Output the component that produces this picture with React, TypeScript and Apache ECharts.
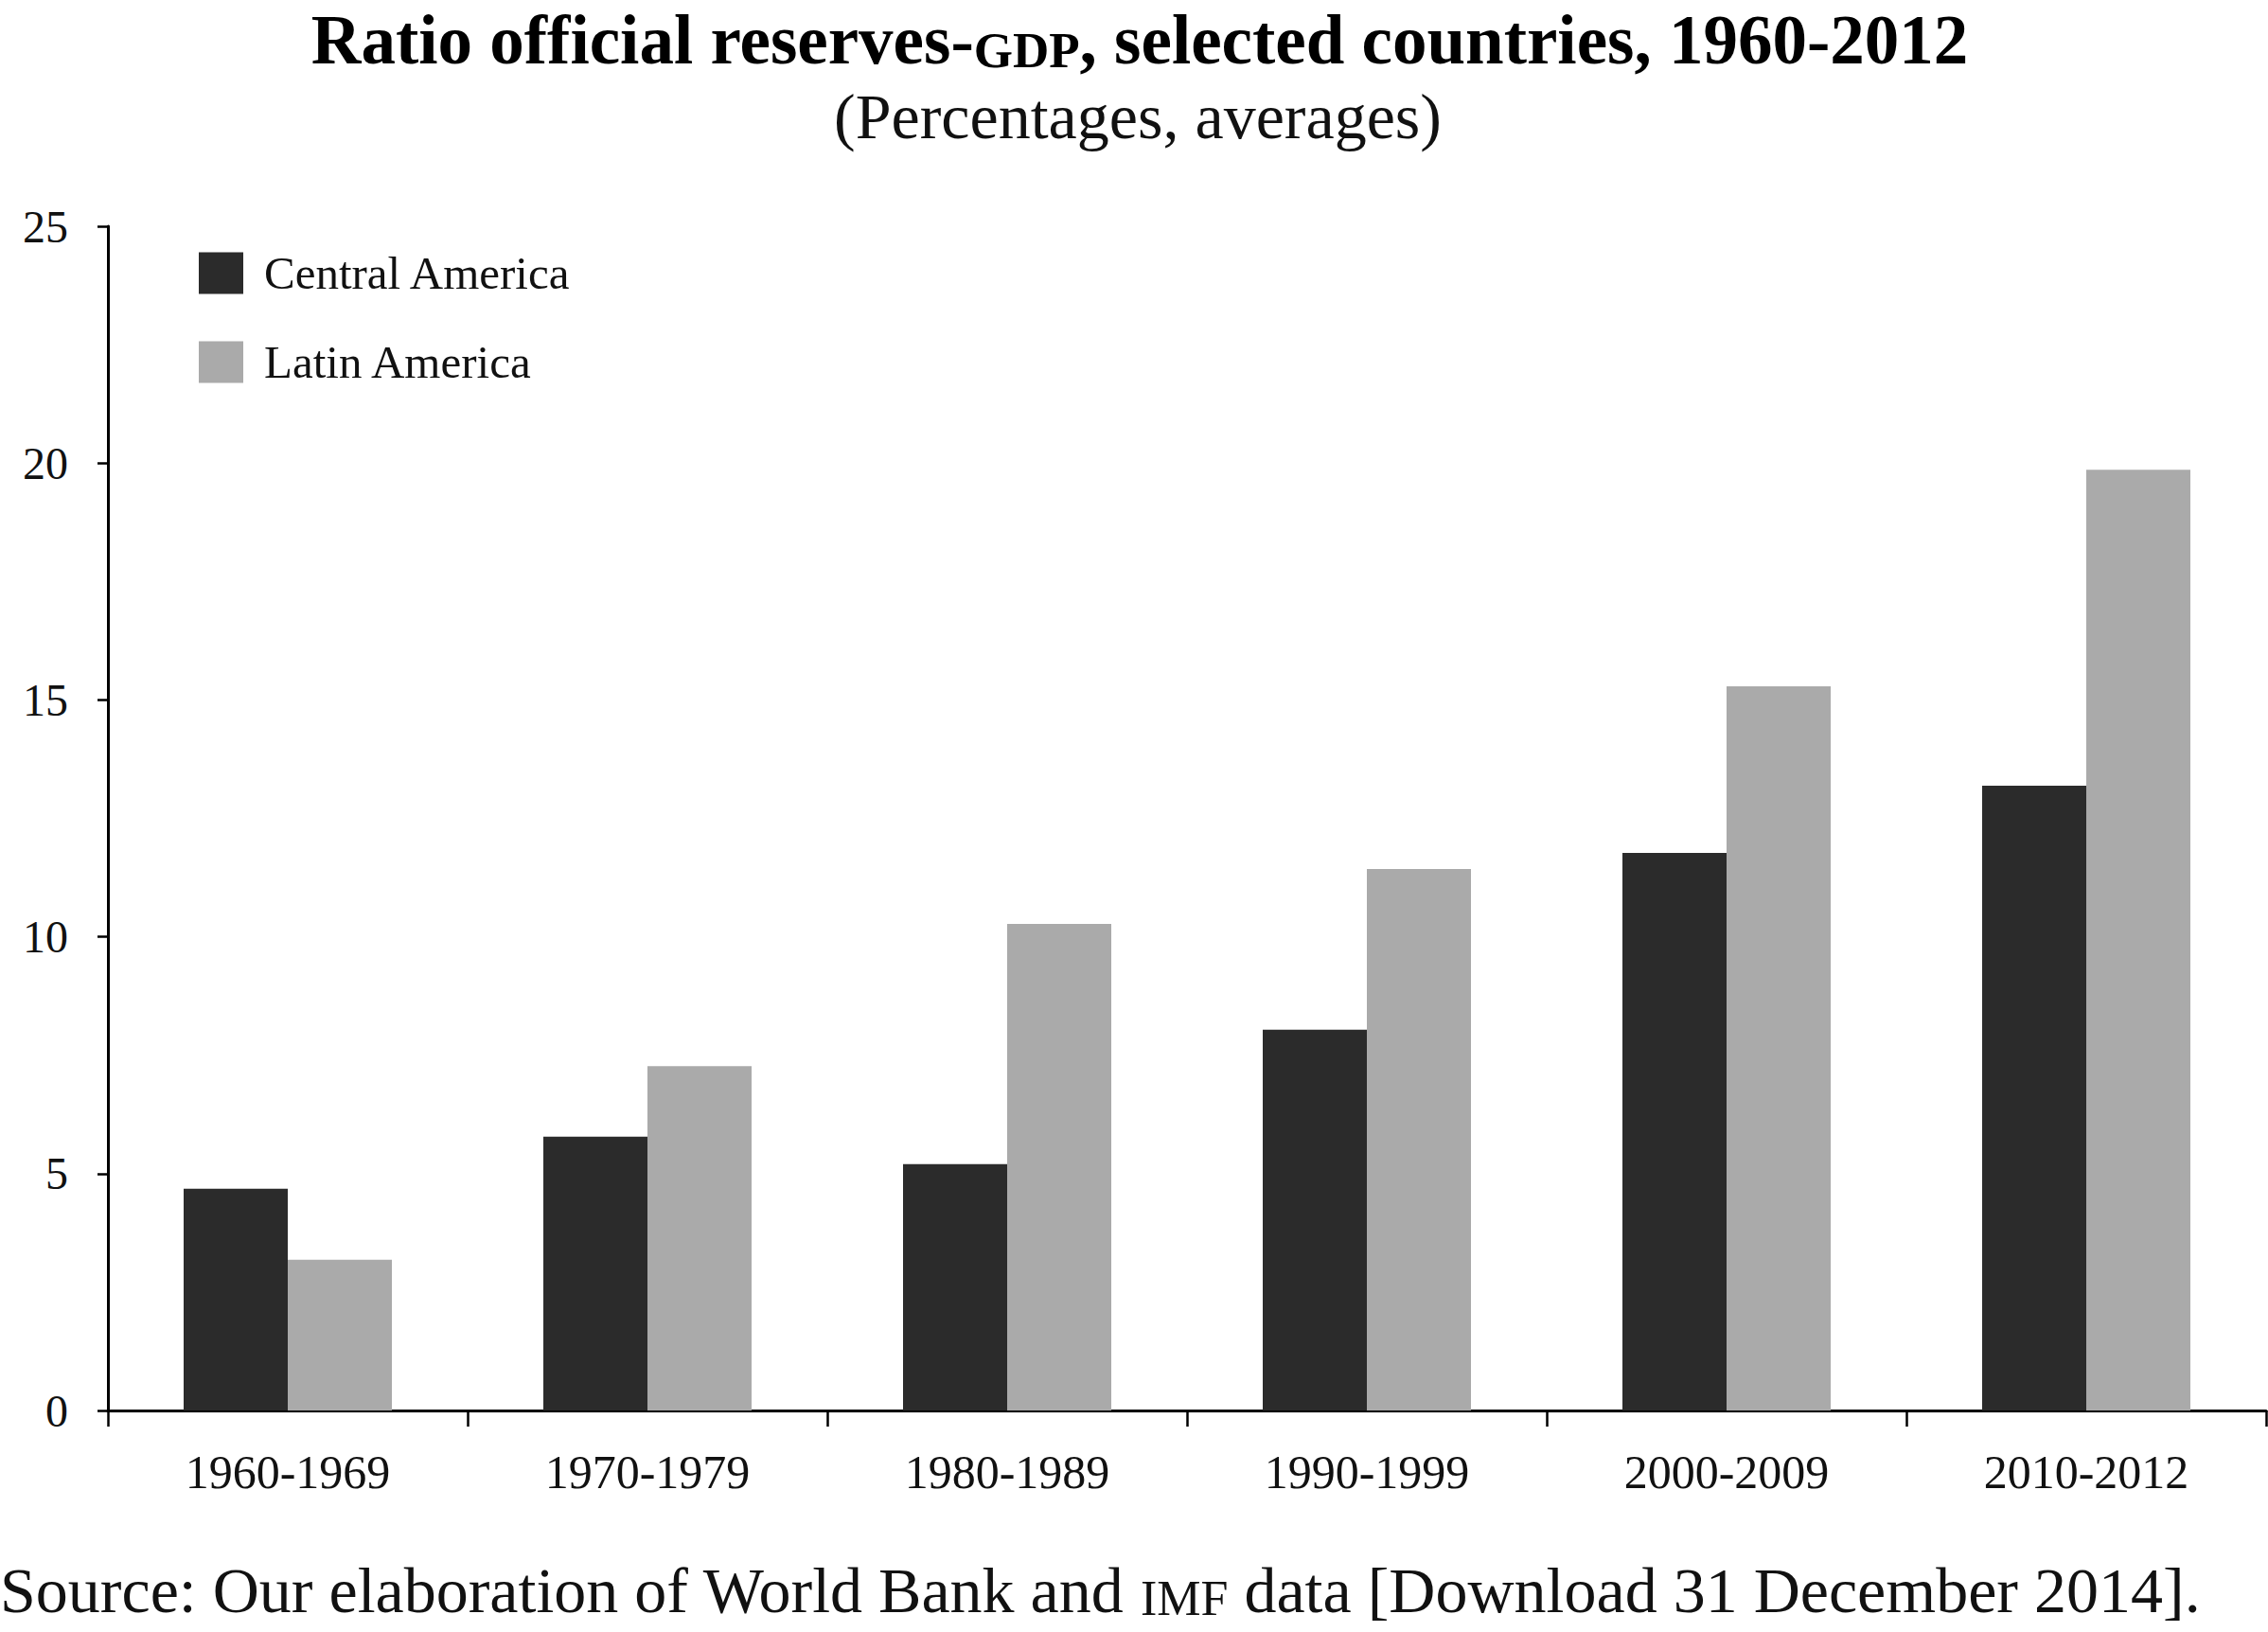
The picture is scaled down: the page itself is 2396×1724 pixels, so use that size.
import React, { useEffect, useRef } from "react";
import * as echarts from "echarts";

const categories = ["1960-1969", "1970-1979", "1980-1989", "1990-1999", "2000-2009", "2010-2012"];
const centralAmerica = [4.68, 5.78, 5.2, 8.04, 11.77, 13.19];
const latinAmerica = [3.18, 7.27, 10.27, 11.43, 15.29, 19.86];
const seriesNames = ["Central America", "Latin America"];
const yTicks = { min: 0, max: 25, interval: 5 };

const FONT = "'Liberation Serif', 'Times New Roman', serif";

export default function App() {
  const ref = useRef<HTMLDivElement>(null);
  useEffect(() => {
    document.body.style.margin = "0";
    document.body.style.overflow = "hidden";
    const chart = echarts.init(ref.current!, undefined, { renderer: "svg" });
    chart.setOption({
      animation: false,
      backgroundColor: "#ffffff",
      grid: { left: 114, right: 2, top: 239, bottom: 234, containLabel: false },
      legend: {
        orient: "vertical",
        left: 210,
        top: 264,
        padding: 0,
        itemWidth: 47,
        itemHeight: 44,
        itemGap: 45,
        icon: "rect",
        textStyle: {
          fontFamily: FONT,
          fontSize: 49,
          color: "#111",
          lineHeight: 44,
          padding: [0, 0, 0, 17],
        },
        data: seriesNames,
      },
      xAxis: {
        type: "category",
        data: categories,
        axisLine: { show: true, lineStyle: { color: "#000", width: 3 } },
        axisTick: { show: true, length: 17, alignWithLabel: false, lineStyle: { color: "#000", width: 2.5 } },
        axisLabel: { fontFamily: FONT, fontSize: 50, lineHeight: 50, color: "#111", margin: 40 },
        splitLine: { show: false },
      },
      yAxis: {
        type: "value",
        min: yTicks.min,
        max: yTicks.max,
        interval: yTicks.interval,
        axisLine: { show: true, lineStyle: { color: "#000", width: 3 } },
        axisTick: { show: true, length: 11, lineStyle: { color: "#000", width: 2.5 } },
        axisLabel: { fontFamily: FONT, fontSize: 48, color: "#111", margin: 42 },
        splitLine: { show: false },
      },
      series: [
        {
          name: seriesNames[0],
          type: "bar",
          data: centralAmerica,
          barWidth: 110,
          barGap: "0%",
          itemStyle: { color: "#2b2b2b" },
        },
        {
          name: seriesNames[1],
          type: "bar",
          data: latinAmerica,
          barWidth: 110,
          barGap: "0%",
          itemStyle: { color: "#aaaaaa" },
        },
      ],
      graphic: [
        {
          type: "text",
          x: 1204,
          y: 48,
          style: {
            text: "{a|Ratio official reserves-}{b|GDP}{a|, selected countries, 1960-2012}",
            align: "center",
            verticalAlign: "middle",
            fill: "#000",
            rich: {
              a: { fontFamily: FONT, fontSize: 73, lineHeight: 62, fontWeight: "bold", fill: "#000", color: "#000", verticalAlign: "bottom" },
              b: { fontFamily: FONT, fontSize: 53, lineHeight: 48, fontWeight: "bold", fill: "#000", color: "#000", verticalAlign: "bottom" },
            },
          },
        },
        {
          type: "text",
          x: 1202,
          y: 123,
          style: {
            text: "(Percentages, averages)",
            align: "center",
            verticalAlign: "middle",
            fontFamily: FONT,
            fontSize: 68,
            fill: "#111",
          },
        },
        {
          type: "text",
          x: 0,
          y: 1685,
          style: {
            text: "{a|Source: Our elaboration of World Bank and }{b|IMF}{a| data [Download 31 December 2014].}",
            align: "left",
            verticalAlign: "middle",
            fill: "#111",
            rich: {
              a: { fontFamily: FONT, fontSize: 68, lineHeight: 58, fill: "#111", color: "#111", verticalAlign: "bottom" },
              b: { fontFamily: FONT, fontSize: 52, lineHeight: 46, fill: "#111", color: "#111", verticalAlign: "bottom" },
            },
          },
        },
      ],
    });
    return () => chart.dispose();
  }, []);
  return <div ref={ref} style={{ width: 2396, height: 1724 }} />;
}
